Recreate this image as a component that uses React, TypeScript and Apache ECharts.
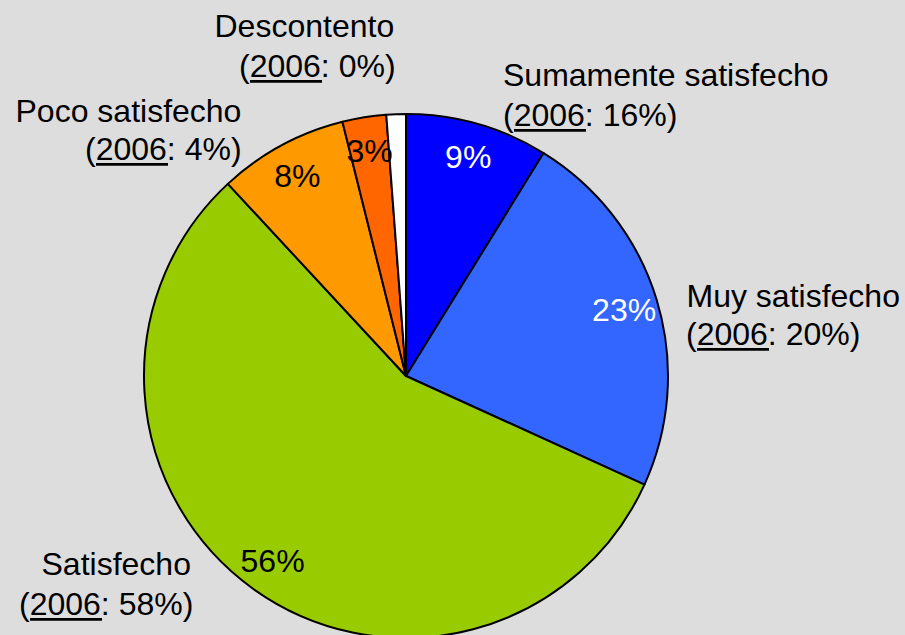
import React, { useEffect, useRef } from 'react';
import * as echarts from 'echarts';

// ---- data ----
const categories = ['Sumamente satisfecho', 'Muy satisfecho', 'Satisfecho', 'Poco satisfecho', 'Insatisfecho', 'Descontento'];
const values = [8.8, 23.0, 56.3, 8.0, 2.7, 1.2];
const values2006 = [16, 20, 58, 4, null, 0];
const yearLabel = '2006';
const colors = ['#0000FF', '#3366FF', '#99CC00', '#FF9900', '#FF6600', '#FFFFFF'];
const labelColors = ['#FFFFFF', '#FFFFFF', '#000000', '#000000', '#000000', '#000000'];
const showInnerLabel = [true, true, true, true, true, false];

const FONT = '"Liberation Sans", Arial, Helvetica, sans-serif';
const FS = 32;

export default function App() {
  const ref = useRef<HTMLDivElement>(null);
  useEffect(() => {
    if (!ref.current) return;
    const chart = echarts.init(ref.current, undefined, { renderer: 'svg' });

    // layout of external annotations: index into categories, x (left) and baseline of each line
    const ann = [
      { i: 0, x1: 503, b1: 86, x2: 503, b2: 126 },
      { i: 1, x1: 686.5, b1: 307, x2: 686, b2: 345 },
      { i: 2, x1: 41.5, b1: 575, x2: 19, b2: 615 },
      { i: 3, x1: 15.5, b1: 122, x2: 85, b2: 160 },
      { i: 5, x1: 214.5, b1: 37, x2: 239, b2: 77 },
    ];
    const graphic: any[] = [];
    ann.forEach((a) => {
      graphic.push({
        type: 'text',
        silent: true,
        style: {
          text: categories[a.i], x: a.x1, y: a.b1 - 11, fill: '#000',
          fontSize: FS, fontFamily: FONT, align: 'left', verticalAlign: 'middle',
        },
      });
      graphic.push({
        type: 'text',
        silent: true,
        style: {
          text: `(${yearLabel}: ${values2006[a.i]}%)`, x: a.x2, y: a.b2 - 11, fill: '#000',
          fontSize: FS, fontFamily: FONT, align: 'left', verticalAlign: 'middle',
        },
      });
      graphic.push({
        type: 'rect',
        silent: true,
        shape: { x: a.x2 + 11, y: a.b2 + 3, width: 72, height: 2.7 },
        style: { fill: '#000' },
      });
    });

    const center = [406, 376];
    chart.setOption({
      animation: false,
      backgroundColor: '#DDDDDD',
      graphic,
      series: [
        {
          type: 'pie',
          center,
          radius: 262,
          startAngle: 90,
          clockwise: true,
          silent: true,
          label: { show: false },
          labelLine: { show: false },
          itemStyle: { borderColor: '#000', borderWidth: 2 },
          emphasis: { disabled: true },
          data: values.map((v, k) => ({ name: categories[k], value: v, itemStyle: { color: colors[k] } })),
        },
        {
          type: 'pie',
          center,
          radius: [188, 262],
          startAngle: 90,
          clockwise: true,
          silent: true,
          avoidLabelOverlap: false,
          itemStyle: { color: 'rgba(0,0,0,0)', borderWidth: 0 },
          labelLine: { show: false },
          emphasis: { disabled: true },
          label: {
            show: true,
            position: 'inside',
            rotate: 0,
            fontSize: FS,
            fontFamily: FONT,
          },
          data: values.map((v, k) => ({
            name: categories[k],
            value: v,
            label: {
              show: showInnerLabel[k],
              color: labelColors[k],
              formatter: `${Math.round(v)}%`,
            },
          })),
        },
      ],
    });
    return () => chart.dispose();
  }, []);
  return <div ref={ref} style={{ position: 'absolute', left: 0, top: 0, width: 905, height: 635 }} />;
}
